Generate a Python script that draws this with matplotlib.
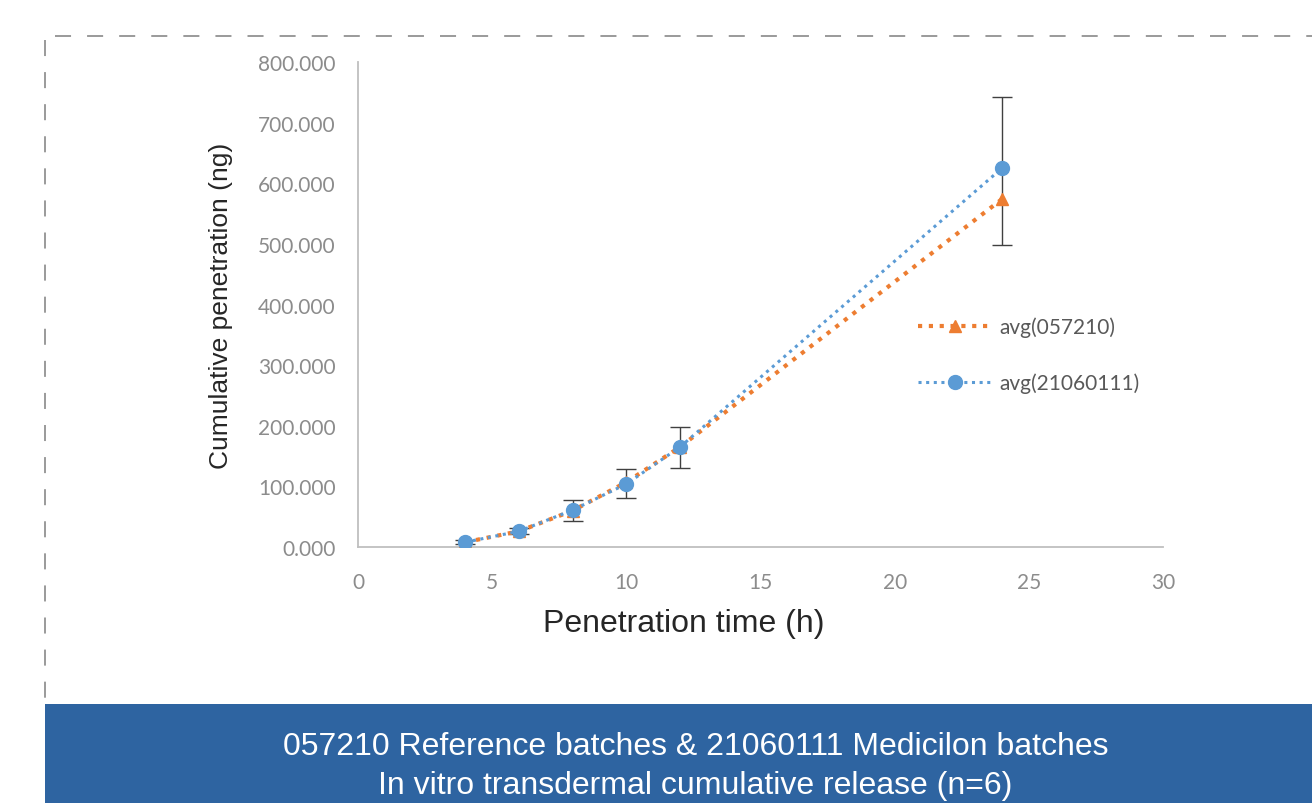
import matplotlib.pyplot as plt
from matplotlib.lines import Line2D
from matplotlib.patches import Rectangle
from matplotlib.ticker import FormatStrFormatter

# penetration time (h)
times = [4, 6, 8, 10, 12, 24]

# cumulative penetration (ng)
ref_avg = [8, 26, 60, 107, 165, 574]
med_avg = [8, 26, 61, 104, 165, 625]
# error bar extent (drawn once, around the Medicilon series)
err_low = [3, 5, 18, 23, 35, 127]
err_high = [3, 5, 16, 24, 33, 117]

ref_name = 'avg(057210)'
med_name = 'avg(21060111)'
caption = ['057210 Reference batches & 21060111 Medicilon batches',
           'In vitro transdermal cumulative release (n=6)']

orange = '#ED7D31'
blue = '#5B9BD5'
tick_grey = '#8c8c8c'

fig = plt.figure(figsize=(13.12, 8.04), dpi=100)
ax = fig.add_axes([0.2729, 0.3184, 0.6136, 0.6032])

ax.errorbar(times, med_avg, yerr=[err_low, err_high], fmt='none',
            ecolor='#404040', elinewidth=1.0, capsize=7, capthick=1.0, zorder=2)
ax.plot(times, ref_avg, color=orange, linestyle=(0, (1, 1.6)), linewidth=3,
        marker='^', markersize=9, label=ref_name, zorder=3)
ax.plot(times, med_avg, color=blue, linestyle=(0, (1, 1.5)), linewidth=2.2,
        marker='o', markersize=10, label=med_name, zorder=4)

ax.set_xlim(0, 30)
ax.set_ylim(0, 800)
ax.set_xticks(range(0, 31, 5))
ax.set_yticks(range(0, 801, 100))
ax.yaxis.set_major_formatter(FormatStrFormatter('%.3f'))
ax.tick_params(length=0, labelsize=15, labelcolor=tick_grey)
ax.tick_params(axis='y', pad=16)
ax.tick_params(axis='x', pad=18)
for lab in ax.get_xticklabels() + ax.get_yticklabels():
    lab.set_family('Lato')

for s in ['top', 'right']:
    ax.spines[s].set_visible(False)
for s in ['left', 'bottom']:
    ax.spines[s].set_color('#bfbfbf')
    ax.spines[s].set_linewidth(1.3)

ax.set_xlabel('Penetration time (h)', fontsize=23, family='Liberation Sans',
              color='#262626')
ax.xaxis.set_label_coords(0.405, -0.125)
ax.set_ylabel('Cumulative penetration (ng)', fontsize=19, family='Liberation Sans',
              color='#262626', labelpad=18)

leg = ax.legend(loc='upper left', bbox_to_anchor=(0.672, 0.514), frameon=False,
                handlelength=3.6, handletextpad=0.3, labelspacing=1.7,
                prop={'family': 'Lato', 'size': 15})
for t in leg.get_texts():
    t.set_color('#595959')

# dashed frame around the chart
dash = (0, (10.5, 10.5))
fig.add_artist(Line2D([0.042, 1.0], [0.954, 0.954], transform=fig.transFigure,
                      color='#7f7f7f', linewidth=1.1, linestyle=dash))
fig.add_artist(Line2D([0.0343, 0.0343], [0.949, 0.123], transform=fig.transFigure,
                      color='#7f7f7f', linewidth=1.1, linestyle=dash))

# caption bar
fig.add_artist(Rectangle((0.0343, 0), 1 - 0.0343, 0.1231, transform=fig.transFigure,
                         facecolor='#2E64A1', edgecolor='none'))
fig.text(0.53, 0.071, caption[0], ha='center', va='center', color='white',
         fontsize=23, family='Liberation Sans')
fig.text(0.53, 0.023, caption[1], ha='center', va='center', color='white',
         fontsize=23, family='Liberation Sans')

fig.savefig('out.png', dpi=100)
